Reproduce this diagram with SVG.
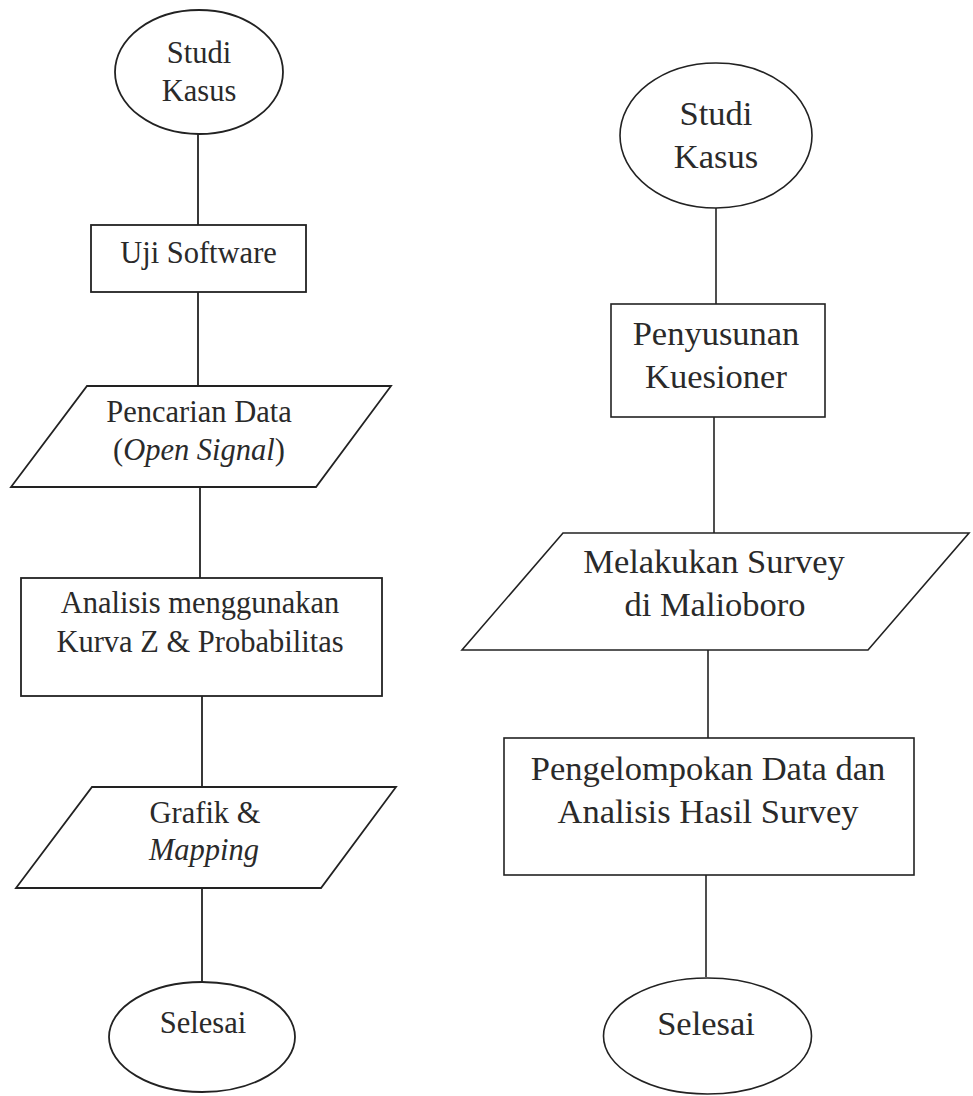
<svg xmlns="http://www.w3.org/2000/svg" width="973" height="1096" viewBox="0 0 973 1096">
<style>
.s{fill:#fff;stroke:#222;stroke-width:1.8}
.sr{fill:#fff;stroke:#222;stroke-width:1.6}
.c{stroke:#222;stroke-width:1.8;fill:none}
.cr{stroke:#222;stroke-width:1.6;fill:none}
.t{font-family:'Liberation Serif','Times New Roman',serif;fill:#2a2a2a;text-anchor:middle}
.l{font-size:30.5px}
.r{font-size:34.5px}
</style>
<rect width="973" height="1096" fill="#fff"/>
<g id="connectors">
<line class="c" x1="198" y1="134" x2="198" y2="225"/>
<line class="c" x1="198" y1="292" x2="198" y2="386"/>
<line class="c" x1="200" y1="487" x2="200" y2="578"/>
<line class="c" x1="202" y1="696" x2="202" y2="787"/>
<line class="c" x1="202" y1="888" x2="202" y2="982"/>
<line class="cr" x1="716" y1="208" x2="716" y2="304"/>
<line class="cr" x1="714" y1="417" x2="714" y2="533"/>
<line class="cr" x1="708" y1="650" x2="708" y2="738"/>
<line class="cr" x1="706" y1="875" x2="706" y2="977"/>
</g>
<g id="l-start">
<ellipse class="s" cx="199" cy="72" rx="84" ry="62"/>
<text class="t l" x="199" y="63">Studi</text>
<text class="t l" x="199" y="101">Kasus</text>
</g>
<g id="l-uji">
<rect class="s" x="91" y="225" width="215" height="67"/>
<text class="t l" x="198.5" y="263">Uji Software</text>
</g>
<g id="l-pencarian">
<polygon class="s" points="87,386 391,386 316,487 11,487"/>
<text class="t l" x="199" y="422">Pencarian Data</text>
<text class="t l" x="199" y="460">(<tspan font-style="italic">Open Signal</tspan>)</text>
</g>
<g id="l-analisis">
<rect class="s" x="21" y="578" width="361" height="118"/>
<text class="t l" x="200" y="613">Analisis menggunakan</text>
<text class="t l" x="200" y="652">Kurva Z &amp; Probabilitas</text>
</g>
<g id="l-grafik">
<polygon class="s" points="92,787 396,787 321,888 16,888"/>
<text class="t l" x="205" y="823">Grafik &amp;</text>
<text class="t l" font-style="italic" x="204" y="860">Mapping</text>
</g>
<g id="l-end">
<ellipse class="s" cx="202" cy="1037" rx="93" ry="55"/>
<text class="t l" x="203" y="1033">Selesai</text>
</g>
<g id="r-start">
<ellipse class="sr" cx="716" cy="135.5" rx="96" ry="72.5"/>
<text class="t r" x="716" y="125">Studi</text>
<text class="t r" x="716" y="168">Kasus</text>
</g>
<g id="r-penyusunan">
<rect class="sr" x="611" y="304" width="214" height="113"/>
<text class="t r" x="716" y="345">Penyusunan</text>
<text class="t r" x="716" y="388">Kuesioner</text>
</g>
<g id="r-survey">
<polygon class="sr" points="563,533 969,533 868,650 462,650"/>
<text class="t r" x="714" y="573">Melakukan Survey</text>
<text class="t r" x="715" y="616">di Malioboro</text>
</g>
<g id="r-pengelompokan">
<rect class="sr" x="504" y="738" width="410" height="137"/>
<text class="t r" x="708" y="780">Pengelompokan Data dan</text>
<text class="t r" x="708" y="823">Analisis Hasil Survey</text>
</g>
<g id="r-end">
<ellipse class="sr" cx="707.5" cy="1036" rx="104" ry="58"/>
<text class="t r" x="706" y="1035">Selesai</text>
</g>
</svg>
